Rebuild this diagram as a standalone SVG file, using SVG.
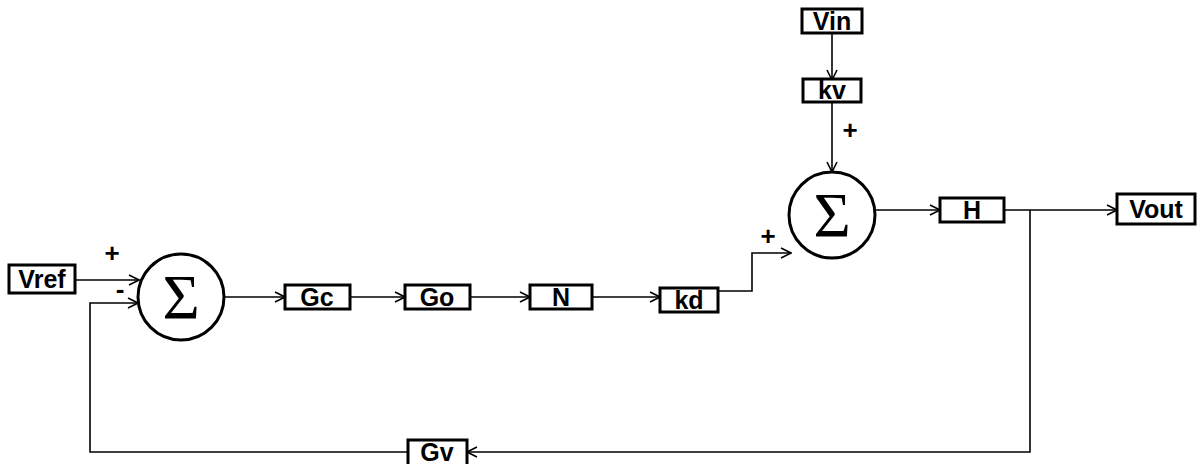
<svg xmlns="http://www.w3.org/2000/svg" width="1202" height="464" viewBox="0 0 1202 464">
<style>
.box{fill:#fff;stroke:#000;stroke-width:3}
.lbl{font-family:"Liberation Sans",Arial,sans-serif;font-size:25px;font-weight:bold;fill:#000;text-anchor:middle}
.sum{fill:#fff;stroke:#000;stroke-width:3}
.sig{font-family:"Liberation Serif","Times New Roman",serif;font-size:64px;fill:#000;text-anchor:middle}
.sign{font-family:"Liberation Sans",Arial,sans-serif;font-size:26px;font-weight:bold;fill:#000;text-anchor:middle}
.wire{fill:none;stroke:#000;stroke-width:1.6}
</style>
<defs>
<marker id="ah" viewBox="0 0 12 12" refX="11" refY="6" markerWidth="12" markerHeight="12" markerUnits="userSpaceOnUse" orient="auto">
<path d="M1,1 L11,6 L1,11" fill="none" stroke="#000" stroke-width="1.6"/>
</marker>
</defs>
<g id="connectors">
<path class="wire" d="M75,280 H139" marker-end="url(#ah)"/>
<path class="wire" d="M408,452 H90 V303 H138" marker-end="url(#ah)"/>
<path class="wire" d="M224,297 H285" marker-end="url(#ah)"/>
<path class="wire" d="M350,297 H405" marker-end="url(#ah)"/>
<path class="wire" d="M470,297 H530" marker-end="url(#ah)"/>
<path class="wire" d="M592,297 H660" marker-end="url(#ah)"/>
<path class="wire" d="M718,291 H752 V253 H791" marker-end="url(#ah)"/>
<path class="wire" d="M832,33 V80" marker-end="url(#ah)"/>
<path class="wire" d="M832,102 V172" marker-end="url(#ah)"/>
<path class="wire" d="M875,210 H940" marker-end="url(#ah)"/>
<path class="wire" d="M1004,210 H1117" marker-end="url(#ah)"/>
<path class="wire" d="M1030,210 V452 H467" marker-end="url(#ah)"/>
</g>
<g id="Vref"><rect class="box" x="9" y="265" width="66" height="28"/><text class="lbl" x="42" y="288">Vref</text></g>
<g id="sum1"><circle class="sum" cx="181" cy="297" r="43"/><text class="sig" x="181" y="319">Σ</text>
<text class="sign" x="112" y="262">+</text><text class="sign" x="120" y="298">-</text></g>
<g id="Gc"><rect class="box" x="285" y="285" width="65" height="24"/><text class="lbl" x="317" y="306">Gc</text></g>
<g id="Go"><rect class="box" x="405" y="285" width="65" height="24"/><text class="lbl" x="437" y="306">Go</text></g>
<g id="N"><rect class="box" x="530" y="285" width="62" height="24"/><text class="lbl" x="561" y="306">N</text></g>
<g id="kd"><rect class="box" x="660" y="288" width="58" height="24"/><text class="lbl" x="689" y="309">kd</text></g>
<g id="sum2"><circle class="sum" cx="832" cy="215" r="43"/><text class="sig" x="832" y="237">Σ</text>
<text class="sign" x="768" y="245">+</text><text class="sign" x="850" y="139">+</text></g>
<g id="Vin"><rect class="box" x="802" y="9" width="60" height="24"/><text class="lbl" x="832" y="30">Vin</text></g>
<g id="kv"><rect class="box" x="803" y="79" width="58" height="23"/><text class="lbl" x="832" y="99">kv</text></g>
<g id="H"><rect class="box" x="940" y="198" width="64" height="24"/><text class="lbl" x="972" y="219">H</text></g>
<g id="Vout"><rect class="box" x="1117" y="194" width="78" height="30"/><text class="lbl" x="1156" y="218">Vout</text></g>
<g id="Gv"><rect class="box" x="408" y="440" width="59" height="30"/><text class="lbl" x="437" y="461">Gv</text></g>
</svg>
